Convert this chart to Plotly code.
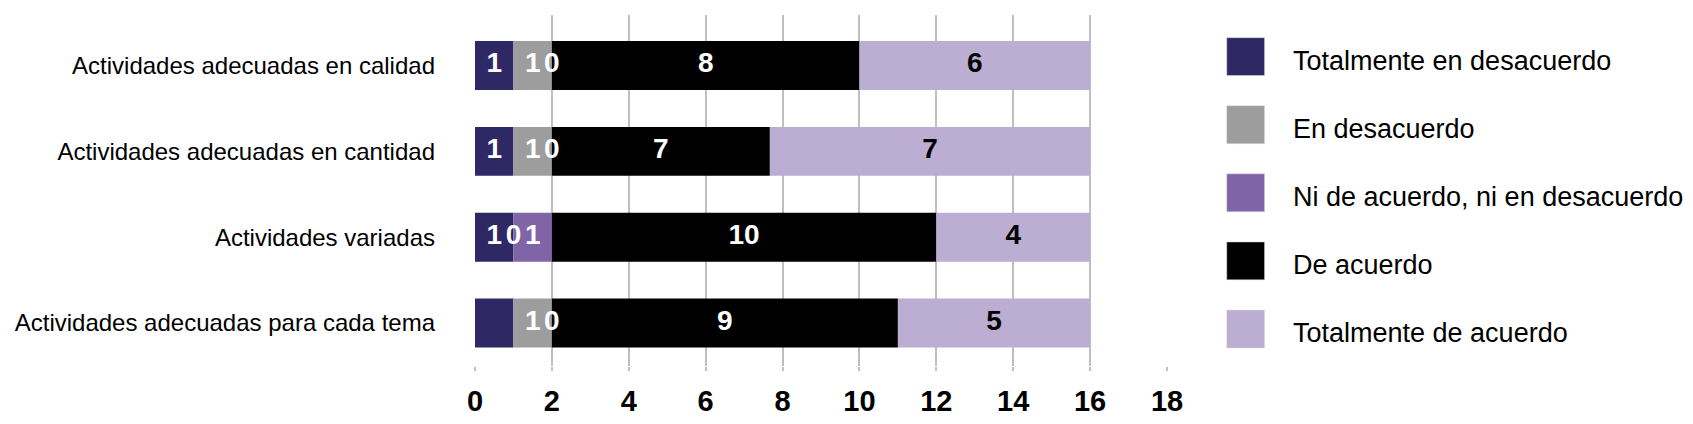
import plotly.graph_objects as go

# Datos
categorias = [
    "Actividades adecuadas en calidad",
    "Actividades adecuadas en cantidad",
    "Actividades variadas",
    "Actividades adecuadas para cada tema",
]
series = [
    "Totalmente en desacuerdo",
    "En desacuerdo",
    "Ni de acuerdo, ni en desacuerdo",
    "De acuerdo",
    "Totalmente de acuerdo",
]
totalmente_desacuerdo = [1, 1, 1, 1]
en_desacuerdo = [1, 1, 0, 1]
ni_ni = [0, 0, 1, 0]
de_acuerdo = [8, 5.67, 10, 9]
totalmente_acuerdo = [6, 8.33, 4, 5]

# etiquetas que muestra el gráfico original
etq_totalmente_desacuerdo = ["1", "1", "1", ""]
etq_en_desacuerdo = ["1", "1", "0", "1"]
etq_ni_ni = ["0", "0", "1", "0"]
etq_de_acuerdo = ["8", "7", "10", "9"]
etq_totalmente_acuerdo = ["6", "7", "4", "5"]

ticks_x = [0, 2, 4, 6, 8, 10, 12, 14, 16, 18]

colores = ["#2E2864", "#9D9D9D", "#8064A8", "#000000", "#BCADD3"]
color_texto = ["white", "white", "white", "white", "black"]

valores = [totalmente_desacuerdo, en_desacuerdo, ni_ni, de_acuerdo, totalmente_acuerdo]
etiquetas = [etq_totalmente_desacuerdo, etq_en_desacuerdo, etq_ni_ni,
             etq_de_acuerdo, etq_totalmente_acuerdo]

FUENTE = "Liberation Sans"
# la página añade 8px de margen al body, así que se descuentan aquí
OFF = 8
W, H = 1693 - OFF, 424 - OFF
ML, MR, MT, MB = 472 - OFF, 526, 15 - OFF, 57
PW, PH = W - ML - MR, H - MT - MB


def px_x(p):
    return (p - OFF - ML) / PW


def px_y(p):
    return (H - MB - (p - OFF)) / PH


fig = go.Figure()

base = [0] * len(categorias)
for nombre, vals, etq, col, ctxt in zip(series, valores, etiquetas, colores, color_texto):
    fig.add_trace(go.Bar(
        y=categorias, x=vals, base=base, orientation="h", name=nombre,
        marker=dict(color=col, line=dict(width=0)), showlegend=False,
    ))
    centros = [b + v / 2 for b, v in zip(base, vals)]
    fig.add_trace(go.Scatter(
        y=categorias, x=centros, mode="text", text=etq,
        textfont=dict(family=FUENTE, size=28, color=ctxt, weight="bold"),
        showlegend=False, hoverinfo="skip",
    ))
    base = [b + v for b, v in zip(base, vals)]

# leyenda dibujada a mano (cuadrados grandes como en el original)
for i, (nombre, col) in enumerate(zip(series, colores)):
    cy = 56.7 + i * 68.3
    fig.add_shape(type="rect", xref="paper", yref="paper",
                  x0=px_x(1227), x1=px_x(1265), y0=px_y(cy + 19), y1=px_y(cy - 19),
                  fillcolor=col, line=dict(color="#DDDDDD", width=0.5))
    fig.add_annotation(text=nombre, xref="paper", yref="paper",
                       x=px_x(1292), y=px_y(cy + 4), xanchor="left", yanchor="middle",
                       showarrow=False, font=dict(family=FUENTE, size=27, color="black"))

fig.update_layout(
    width=W, height=H,
    margin=dict(l=ML, r=MR, t=MT, b=MB),
    barmode="overlay", bargap=0.43,
    plot_bgcolor="white", paper_bgcolor="white",
    showlegend=False,
)
fig.update_xaxes(
    range=[0, 18], tickvals=ticks_x, showgrid=True, gridcolor="#BFBFBF", gridwidth=1.5,
    zeroline=False, ticks="outside", ticklen=4, tickcolor="#BFBFBF", tickwidth=1.5,
    ticklabelstandoff=5,
    tickfont=dict(family=FUENTE, size=29, color="black", weight="bold"), showline=False,
)
fig.update_yaxes(
    range=[3.5, -0.588], showgrid=False, zeroline=False, showline=False,
    ticks="", ticklabelstandoff=39,
    tickfont=dict(family=FUENTE, size=24, color="black"),
)

fig.write_html("out.html")
